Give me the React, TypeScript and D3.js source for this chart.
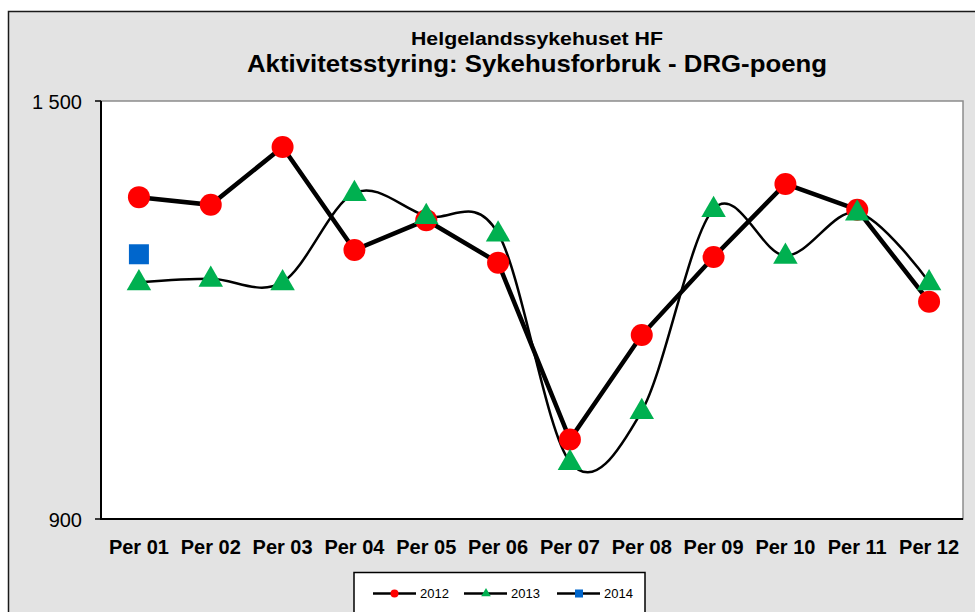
import React, { useEffect, useRef } from 'react';
import * as d3 from 'd3';

const periods = ['Per 01', 'Per 02', 'Per 03', 'Per 04', 'Per 05', 'Per 06', 'Per 07', 'Per 08', 'Per 09', 'Per 10', 'Per 11', 'Per 12'];
const values2012 = [1362, 1351, 1434, 1286, 1329, 1268, 1014, 1164, 1276, 1381, 1344, 1212];
const values2013 = [1240, 1245, 1240, 1368, 1335, 1310, 982, 1055, 1345, 1278, 1340, 1240];
const values2014 = [1280];
const yTicks = [900, 1500];
const seriesNames = ['2012', '2013', '2014'];

const App = () => {
  const svgRef = useRef(null);

  useEffect(() => {
    const svg = d3.select(svgRef.current);
    svg.selectAll('*').remove();

    const W = 975, H = 612;
    const plot = { left: 101, top: 101, right: 963, bottom: 519 };
    const font = 'Arial, "Liberation Sans", sans-serif';

    // outer chart frame (extends past the window edges)
    svg.append('rect')
      .attr('x', 8.5).attr('y', 11.5)
      .attr('width', W + 20).attr('height', H + 20)
      .attr('fill', '#e3e3e3')
      .attr('stroke', '#1a1a1a').attr('stroke-width', 1.5);

    // titles
    svg.append('text')
      .attr('x', 537).attr('y', 45)
      .attr('text-anchor', 'middle')
      .attr('font-family', font).attr('font-weight', 'bold').attr('font-size', 18)
      .attr('textLength', 252).attr('lengthAdjust', 'spacingAndGlyphs')
      .text('Helgelandssykehuset  HF');
    svg.append('text')
      .attr('x', 537).attr('y', 72)
      .attr('text-anchor', 'middle')
      .attr('font-family', font).attr('font-weight', 'bold').attr('font-size', 24)
      .attr('textLength', 580).attr('lengthAdjust', 'spacingAndGlyphs')
      .text('Aktivitetsstyring: Sykehusforbruk - DRG-poeng');

    const x = d3.scaleBand().domain(periods).range([plot.left + 2, plot.right + 2]);
    const y = d3.scaleLinear().domain([900, 1500]).range([plot.bottom, plot.top]);
    const cx = (p) => x(p) + x.bandwidth() / 2;

    // plot area
    svg.append('rect')
      .attr('x', plot.left).attr('y', plot.top)
      .attr('width', plot.right - plot.left).attr('height', plot.bottom - plot.top)
      .attr('fill', '#fff').attr('stroke', '#8c8c8c').attr('stroke-width', 1.5);

    // axes
    svg.append('line')
      .attr('x1', plot.left).attr('x2', plot.left)
      .attr('y1', plot.top).attr('y2', plot.bottom)
      .attr('stroke', '#000').attr('stroke-width', 2);
    svg.append('line')
      .attr('x1', plot.left - 1).attr('x2', plot.right)
      .attr('y1', plot.bottom).attr('y2', plot.bottom)
      .attr('stroke', '#000').attr('stroke-width', 2);

    const yAxis = svg.append('g');
    yTicks.forEach((t) => {
      yAxis.append('line')
        .attr('x1', plot.left - 6).attr('x2', plot.left)
        .attr('y1', y(t)).attr('y2', y(t))
        .attr('stroke', '#000').attr('stroke-width', 1.5);
      yAxis.append('text')
        .attr('x', plot.left - 19).attr('y', y(t) + 1)
        .attr('dy', '0.35em')
        .attr('text-anchor', 'end')
        .attr('font-family', font).attr('font-size', 20)
        .text(d3.format(',')(t).replace(',', ' '));
    });

    svg.append('g').selectAll('text')
      .data(periods).join('text')
      .attr('x', (d) => cx(d)).attr('y', 554)
      .attr('text-anchor', 'middle')
      .attr('font-family', font).attr('font-weight', 'bold').attr('font-size', 20)
      .text((d) => d);

    // series lines
    const line2012 = d3.line<number>()
      .x((d, i) => cx(periods[i]))
      .y((d) => y(d));
    const line2013 = d3.line<number>()
      .x((d, i) => cx(periods[i]))
      .y((d) => y(d))
      .curve(d3.curveCardinal.tension(0));

    svg.append('path')
      .datum(values2013)
      .attr('fill', 'none').attr('stroke', '#000').attr('stroke-width', 2.5)
      .attr('d', line2013);
    svg.append('path')
      .datum(values2012)
      .attr('fill', 'none').attr('stroke', '#000').attr('stroke-width', 4.5)
      .attr('d', line2012);

    const tri = d3.symbol().type(d3.symbolTriangle).size(260);

    svg.append('g').selectAll('circle')
      .data(values2012).join('circle')
      .attr('cx', (d, i) => cx(periods[i])).attr('cy', (d) => y(d))
      .attr('r', 11).attr('fill', '#ff0000');

    svg.append('g').selectAll('path')
      .data(values2013).join('path')
      .attr('transform', (d, i) => `translate(${cx(periods[i])},${y(d) + 1})`)
      .attr('d', tri)
      .attr('fill', '#00b050');

    svg.append('g').selectAll('rect')
      .data(values2014).join('rect')
      .attr('x', (d, i) => cx(periods[i]) - 10).attr('y', (d) => y(d) - 10)
      .attr('width', 20).attr('height', 20)
      .attr('fill', '#0066cc');

    // legend
    const legend = svg.append('g');
    legend.append('rect')
      .attr('x', 354).attr('y', 572.5)
      .attr('width', 291).attr('height', 60)
      .attr('fill', '#fff').attr('stroke', '#000').attr('stroke-width', 1.5);
    const legendX = [373, 464, 557];
    const legendColors = ['#ff0000', '#00b050', '#0066cc'];
    seriesNames.forEach((name, i) => {
      const lx = legendX[i];
      const ly = 593.5;
      legend.append('line')
        .attr('x1', lx).attr('x2', lx + 43)
        .attr('y1', ly).attr('y2', ly)
        .attr('stroke', '#000').attr('stroke-width', 2.5);
      if (i === 0) {
        legend.append('circle').attr('cx', lx + 21.5).attr('cy', ly).attr('r', 4).attr('fill', legendColors[i]);
      } else if (i === 1) {
        legend.append('path')
          .attr('transform', `translate(${lx + 22},${ly})`)
          .attr('d', d3.symbol().type(d3.symbolTriangle).size(40))
          .attr('fill', legendColors[i]);
      } else {
        legend.append('rect').attr('x', lx + 18).attr('y', ly - 4).attr('width', 8).attr('height', 8).attr('fill', legendColors[i]);
      }
      legend.append('text')
        .attr('x', lx + 47).attr('y', ly)
        .attr('dy', '0.35em')
        .attr('font-family', font).attr('font-size', 13)
        .text(name);
    });
  }, []);

  return (
    <div style={{ position: 'fixed', left: 0, top: 0, width: 975, height: 612, overflow: 'hidden', background: '#fff' }}>
      <svg ref={svgRef} width={975} height={612} style={{ display: 'block' }}></svg>
    </div>
  );
};

export default App;
